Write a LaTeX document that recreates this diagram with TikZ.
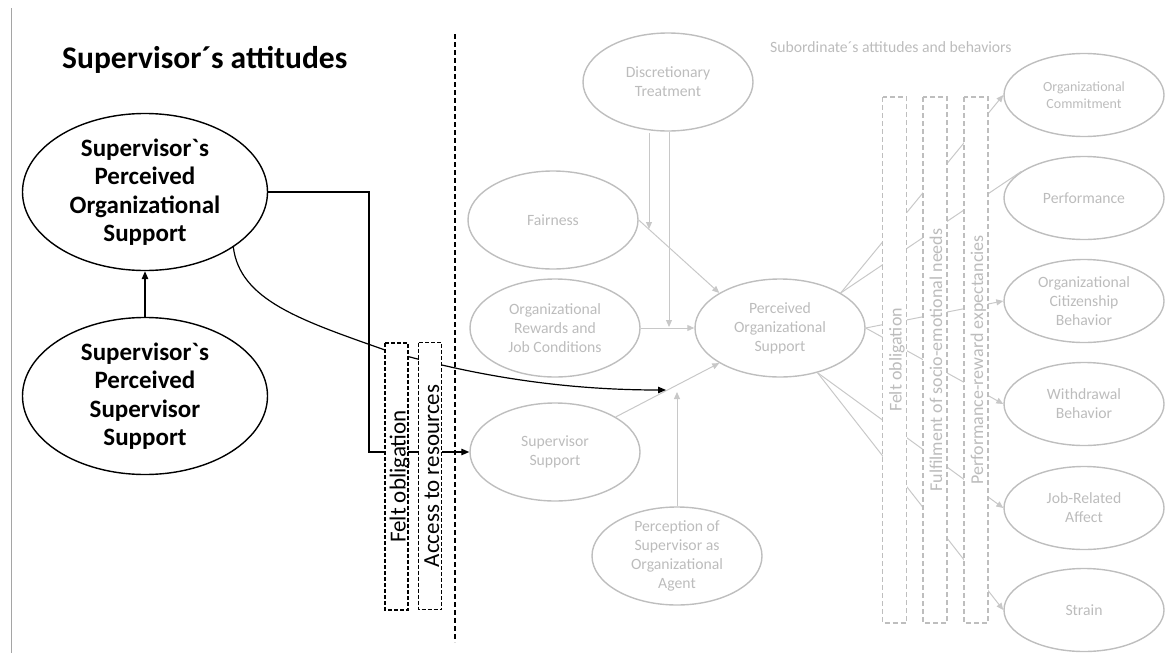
\documentclass[tikz,border=0pt]{standalone}
\usepackage{fontspec}
\newfontfamily\cf{Carlito}
\usetikzlibrary{shapes.geometric,arrows.meta,calc}
\definecolor{gline}{RGB}{200,200,200}
\definecolor{gshape}{RGB}{190,190,190}
\definecolor{gtext}{RGB}{188,188,188}
\definecolor{frameline}{RGB}{165,165,165}
\begin{document}
\begin{tikzpicture}[x=1pt,y=-1pt,
  blackoval/.style={ellipse,draw=black,line width=1.4pt,minimum width=245pt,minimum height=157pt,
    inner sep=-12pt,align=center,font=\cf\bfseries\fontsize{25}{28.5}\selectfont},
  greyoval/.style={ellipse,draw=gshape,line width=1.4pt,minimum width=170pt,minimum height=98pt,
    inner sep=-12pt,align=center,text=gtext,font=\cf\fontsize{15.7}{19}\selectfont},
  outoval/.style={greyoval,minimum width=160pt,minimum height=83pt},
  blackbox/.style={draw=black,dash pattern=on 4pt off 2pt,line width=1.4pt,fill=white,rotate=90,
    minimum width=267pt,minimum height=23pt,inner sep=0pt,text height=20.5pt,text depth=2.5pt,
    font=\cf\fontsize{23}{23}\selectfont},
  greybox/.style={draw=gshape,dash pattern=on 5pt off 3pt,line width=1.8pt,fill=white,rotate=90,
    minimum width=526pt,minimum height=24pt,inner sep=0pt,text height=19pt,text depth=5pt,
    text=gtext,font=\cf\fontsize{18}{18}\selectfont},
  blackarrow/.style={line width=1.2pt,-{Triangle[length=8pt,width=6.5pt]}},
  greyarrow/.style={gline,line width=1pt,-{Triangle[length=7pt,width=6pt]}},
  greyline/.style={gline,line width=1pt},
]
\useasboundingbox (0,0) rectangle (1165,653);

% frame line
\coordinate (frametop) at (11,8);
\coordinate (framebot) at (11,653);
\draw[frameline,line width=1pt] (frametop) -- (framebot);

% headings
\node[anchor=base west,inner sep=0pt,font=\cf\bfseries\fontsize{31.5}{31.5}\selectfont] (title) at (62,68) {Supervisor´s attitudes};
\node[anchor=base west,inner sep=0pt,text=gtext,font=\cf\fontsize{15.7}{19}\selectfont] (subtitle) at (770,52) {Subordinate´s attitudes and behaviors};

% supervisor side
\node[blackoval] (spos) at (145,192) {Supervisor`s\\Perceived\\Organizational\\Support};
\node[blackoval] (spss) at (145,396) {Supervisor`s\\Perceived\\Supervisor\\Support};

% subordinate side
\node[greyoval] (dt) at (668,82) {Discretionary\\Treatment};
\node[greyoval] (fair) at (553,220) {Fairness};
\node[greyoval] (orjc) at (555,328) {Organizational\\Rewards and\\Job Conditions};
\node[greyoval] (pos) at (780,328) {Perceived\\Organizational\\Support};
\node[greyoval] (ss) at (555,452) {Supervisor\\Support};
\node[greyoval] (psoa) at (677,556) {Perception of\\Supervisor as\\Organizational\\Agent};

\node[outoval,font=\cf\fontsize{14}{17}\selectfont] (oc) at (1084,95) {Organizational\\Commitment};
\node[outoval] (perf) at (1084,198) {Performance};
\node[outoval] (ocb) at (1084,301) {Organizational\\Citizenship\\Behavior};
\node[outoval] (wb) at (1084,404) {Withdrawal\\Behavior};
\node[outoval] (jra) at (1084,508) {Job-Related\\Affect};
\node[outoval] (strain) at (1084,610) {Strain};

% end points of the moderating arrows
\coordinate (fairtip) at (649,229);
\coordinate (orjctip) at (669,327);
\coordinate (agenttip) at (677,392);
\coordinate (modtip) at (666,390);
\coordinate (elbow) at (369,452);

% antecedents of POS
\draw[greyarrow] ($(dt.south)+(-19,1)$) -- (fairtip);
\draw[greyarrow] ($(dt.south)+(1,0)$) -- (orjctip);
\draw[greyarrow] (fair.east) -- (pos.150);
\draw[greyarrow] (orjc.east) -- (pos.west);
\draw[greyarrow] (ss.30) -- (pos.-150);
\draw[greyarrow] (psoa.north) -- (agenttip);

% consequences of POS
\draw[greyarrow] (pos.30) -- (oc.west);
\draw[greyline] (pos.30) -- (perf.157);
\draw[greyarrow] (pos.east) -- (ocb.west);
\draw[greyarrow] (pos.east) -- (wb.west);
\draw[greyarrow] (pos.-50) -- (jra.west);
\draw[greyarrow] (pos.-50) -- (strain.west);

% supervisor links
\draw[blackarrow] (spss.north) -- (spos.south);
\draw[blackarrow] (spos.east) -| (elbow) -- (ss.west);
\draw[blackarrow] (spos.-32) .. controls (240,300) and (300,320) .. (385,350)
  .. controls (470,375) and (560,390) .. (modtip);

% mediating mechanisms
\node[blackbox] (felt) at (396.5,476.5) {Felt obligation};
\node[blackbox] (access) at (430,476) {Access to resources};
\node[greybox] (gfelt) at (894.5,360) {Felt obligation};
\node[greybox] (gneeds) at (935,360) {Fulfilment of socio-emotional needs};
\node[greybox] (gexp) at (976,360) {Performance-reward expectancies};

% divider between the two sides
\coordinate (divtop) at (455,34);
\coordinate (divbot) at (455,642);
\draw[line width=2.5pt,dash pattern=on 5pt off 3pt] (divtop) -- (divbot);
\end{tikzpicture}
\end{document}
